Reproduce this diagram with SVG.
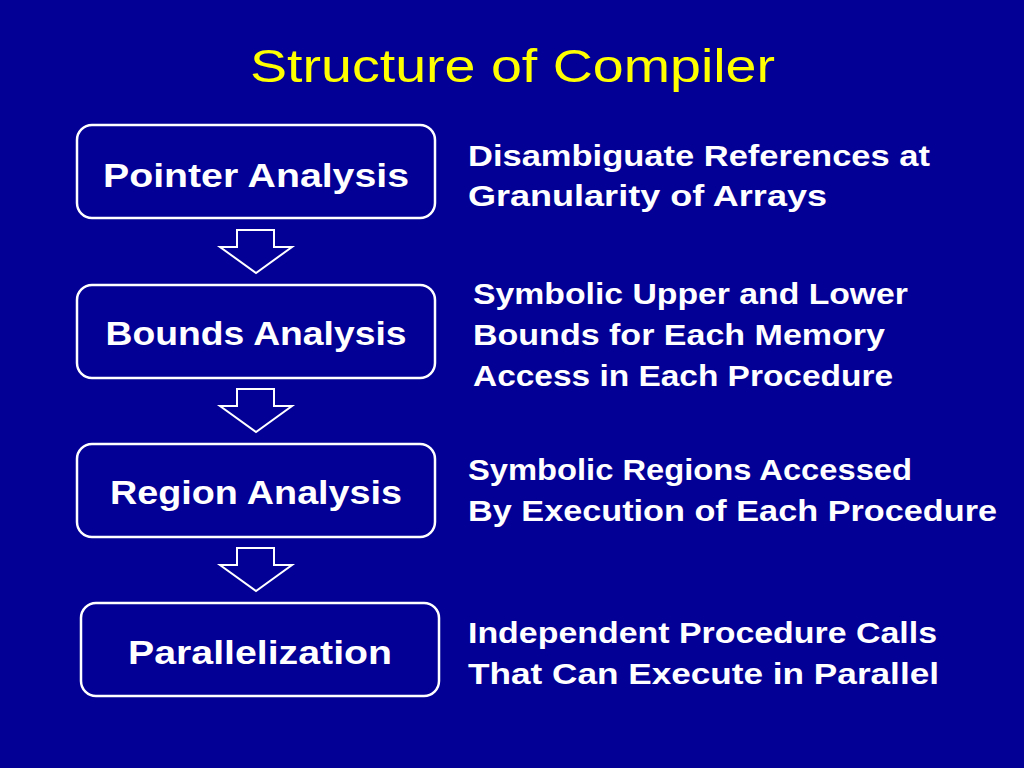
<svg xmlns="http://www.w3.org/2000/svg" width="1024" height="768" viewBox="0 0 1024 768">
<style>
.bg{fill:#020095}
.box{fill:none;stroke:#ffffff;stroke-width:2.5}
.arrow{fill:none;stroke:#ffffff;stroke-width:2;stroke-linejoin:miter}
.title{font-family:"Liberation Sans",Arial,sans-serif;font-size:46px;fill:#ffff00}
.lbl{font-family:"Liberation Sans",Arial,sans-serif;font-size:34px;font-weight:bold;fill:#ffffff;text-anchor:middle}
.desc{font-family:"Liberation Sans",Arial,sans-serif;font-size:29px;font-weight:bold;fill:#ffffff}
</style>
<rect class="bg" x="0" y="0" width="1024" height="768"/>
<text class="title" x="250" y="82" textLength="525" lengthAdjust="spacingAndGlyphs">Structure of Compiler</text>
<g id="pointer">
<rect class="box" x="77" y="125" width="358" height="93" rx="15"/>
<text class="lbl" x="256" y="187" textLength="306" lengthAdjust="spacingAndGlyphs">Pointer Analysis</text>
</g>
<g id="bounds">
<rect class="box" x="77" y="285" width="358" height="93" rx="15"/>
<text class="lbl" x="256" y="345" textLength="301" lengthAdjust="spacingAndGlyphs">Bounds Analysis</text>
</g>
<g id="region">
<rect class="box" x="77" y="444" width="358" height="93" rx="15"/>
<text class="lbl" x="256" y="504" textLength="292" lengthAdjust="spacingAndGlyphs">Region Analysis</text>
</g>
<g id="parallel">
<rect class="box" x="81" y="603" width="358" height="93" rx="15"/>
<text class="lbl" x="260" y="664" textLength="264" lengthAdjust="spacingAndGlyphs">Parallelization</text>
</g>
<g id="desc-pointer">
<text class="desc" x="468" y="166" textLength="462" lengthAdjust="spacingAndGlyphs">Disambiguate References at</text>
<text class="desc" x="468" y="206" textLength="359" lengthAdjust="spacingAndGlyphs">Granularity of Arrays</text>
</g>
<g id="desc-bounds">
<text class="desc" x="473" y="304" textLength="435" lengthAdjust="spacingAndGlyphs">Symbolic Upper and Lower</text>
<text class="desc" x="473" y="345" textLength="412" lengthAdjust="spacingAndGlyphs">Bounds for Each Memory</text>
<text class="desc" x="473" y="386" textLength="420" lengthAdjust="spacingAndGlyphs">Access in Each Procedure</text>
</g>
<g id="desc-region">
<text class="desc" x="468" y="480" textLength="444" lengthAdjust="spacingAndGlyphs">Symbolic Regions Accessed</text>
<text class="desc" x="468" y="521" textLength="529" lengthAdjust="spacingAndGlyphs">By Execution of Each Procedure</text>
</g>
<g id="desc-parallel">
<text class="desc" x="468" y="643" textLength="469" lengthAdjust="spacingAndGlyphs">Independent Procedure Calls</text>
<text class="desc" x="468" y="684" textLength="471" lengthAdjust="spacingAndGlyphs">That Can Execute in Parallel</text>
</g>
<g id="connectors">
<path class="arrow" d="M237,230 H274 V247 H292 L256,273 L220,247 H237 Z"/>
<path class="arrow" d="M237,389 H274 V406 H292 L256,432 L220,406 H237 Z"/>
<path class="arrow" d="M237,548 H274 V565 H292 L256,591 L220,565 H237 Z"/>
</g>
</svg>
